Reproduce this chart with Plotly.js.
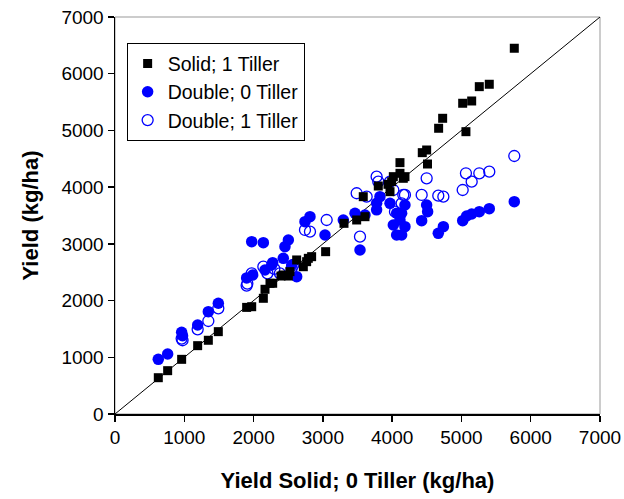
<!DOCTYPE html>
<html>
<head>
<meta charset="utf-8">
<script src="https://cdn.plot.ly/plotly-3.0.1.min.js"></script>
<style>html,body{margin:0;padding:0;background:#fff;}#chart{width:624px;height:499px;}</style>
</head>
<body>
<div id="chart"></div>
<script>
// Solid; 1 Tiller
const solid1X = [625,760,962,1193,1347,1491,1900,1973,2141,2165,2237,2276,2396,2429,2502,2525,2622,2718,2766,2790,2838,3040,3305,3488,3608,3583,3800,3969,4017,3940,4113,4113,4185,4161,3993,4435,4498,4510,4671,4729,5018,5065,5148,5258,5402,5763];
const solid1Y = [640,764,964,1205,1300,1452,1880,1892,2040,2199,2305,2305,2433,2451,2433,2510,2716,2597,2686,2745,2774,2862,3362,3421,3479,3832,4020,3920,4185,4050,4432,4244,4185,4156,4096,4608,4655,4408,5038,5214,5479,4978,5519,5772,5814,6449];
// Double; 0 Tiller
const dbl0X = [625,760,962,975,1193,1347,1491,1900,1987,1973,2141,2165,2261,2276,2429,2453,2502,2550,2622,2742,2814,3031,3295,3464,3608,3536,3776,3776,3824,3969,4017,4065,4137,4065,4137,4185,4185,4113,4426,4498,4512,4666,4739,5018,5075,5148,5258,5402,5763];
const dbl0Y = [964,1058,1440,1380,1569,1804,1952,2400,2451,3039,3021,2539,2627,2668,2745,2950,3068,2627,2421,3391,3479,3156,3421,3539,3509,2892,3715,3600,3832,3715,3333,3156,3156,3539,3539,3686,3303,3421,3409,3686,3568,3186,3303,3409,3492,3527,3568,3621,3744];
// Double; 1 Tiller
const dbl1X = [962,975,1193,1347,1491,1900,1910,1973,2141,2200,2300,2380,2550,2574,2742,2814,3055,3488,3536,3632,3776,3800,3969,4017,4041,4137,4161,4185,4426,4498,4666,4739,5018,5065,5148,5258,5402,5763];
const dbl1Y = [1330,1300,1493,1640,1864,2265,2300,2480,2597,2480,2560,2480,2569,2627,3245,3215,3421,3892,3127,3832,4185,4097,4097,3950,3568,3715,3862,3862,3862,4156,3850,3832,3950,4244,4097,4244,4273,4549];
// 1:1 reference line
const refX = [0,7000];
const refY = [0,7000];
const tickVals = [0,1000,2000,3000,4000,5000,6000,7000];

const font = 'Arial, "Liberation Sans", sans-serif';
const traces = [
  {x: refX, y: refY, mode: 'lines', line: {color: '#000', width: 1}, showlegend: false, hoverinfo: 'skip'},
  {x: dbl1X, y: dbl1Y, mode: 'markers', name: 'Double; 1 Tiller', legendrank: 3,
   marker: {symbol: 'circle-open', size: 11, color: '#0000FF', line: {width: 1.3, color: '#0000FF'}}},
  {x: dbl0X, y: dbl0Y, mode: 'markers', name: 'Double; 0 Tiller', legendrank: 2,
   marker: {symbol: 'circle', size: 11.5, color: '#0000FF'}},
  {x: solid1X, y: solid1Y, mode: 'markers', name: 'Solid; 1 Tiller', legendrank: 1,
   marker: {symbol: 'square', size: 9, color: '#000000'}}
];
const layout = {
  width: 624, height: 499,
  margin: {l: 115, r: 24, t: 17, b: 85},
  paper_bgcolor: '#fff', plot_bgcolor: '#fff',
  font: {family: font, size: 19, color: '#000'},
  showlegend: true,
  legend: {x: 0.024, y: 0.934, xanchor: 'left', yanchor: 'top', bgcolor: '#fff',
    bordercolor: '#000', borderwidth: 1, font: {family: font, size: 19.5, color: '#000'},
    itemwidth: 30, tracegroupgap: 0},
  xaxis: {range: [0,7000], tickvals: tickVals, ticks: 'outside', ticklen: 6, tickwidth: 1.5,
    tickcolor: '#000', showgrid: false, zeroline: false, showline: true, linecolor: '#000', linewidth: 1.5,
    tickfont: {family: font, size: 19},
    title: {text: '<b>Yield Solid; 0 Tiller (kg/ha)</b>', font: {family: font, size: 22}, standoff: 25}},
  yaxis: {range: [0,7000], tickvals: tickVals, ticks: 'outside', ticklen: 6, tickwidth: 1.5,
    tickcolor: '#000', showgrid: false, zeroline: false, showline: true, linecolor: '#000', linewidth: 1.5,
    tickfont: {family: font, size: 19},
    title: {text: '<b>Yield (kg/ha)</b>', font: {family: font, size: 22}, standoff: 16}},
  shapes: [{type: 'rect', xref: 'paper', yref: 'paper', x0: 0, x1: 1, y0: 0, y1: 1,
    line: {color: '#999', width: 1}, layer: 'below'}]
};
Plotly.newPlot('chart', traces, layout, {staticPlot: true, displayModeBar: false});
</script>
</body>
</html>
